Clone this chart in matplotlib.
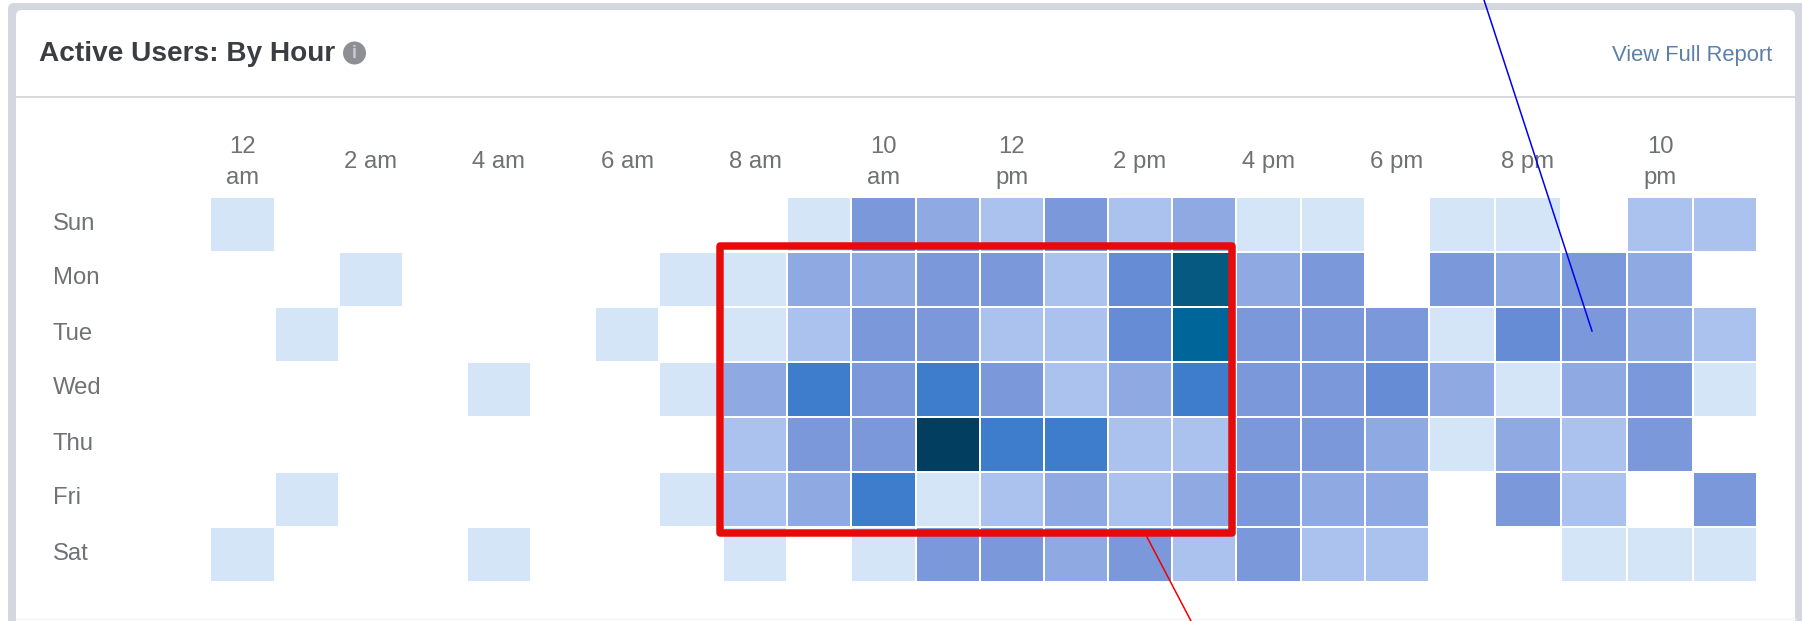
import numpy as np
import matplotlib
matplotlib.use("Agg")
import matplotlib.pyplot as plt
from matplotlib.colors import ListedColormap, BoundaryNorm
from matplotlib.patches import FancyBboxPatch, Rectangle, Circle

plt.rcParams['font.family'] = ['Liberation Sans', 'DejaVu Sans']

days = ["Sun", "Mon", "Tue", "Wed", "Thu", "Fri", "Sat"]
hour_ticks = [0, 2, 4, 6, 8, 10, 12, 14, 16, 18, 20, 22]
hour_labels = ["12\nam", "2 am", "4 am", "6 am", "8 am", "10\nam", "12\npm",
               "2 pm", "4 pm", "6 pm", "8 pm", "10\npm"]

# activity level per hour, 0 means nobody was active
sun = [1,0,0,0,0,0,0,0,0,1,4,3,2,4,2,3,1,1,0,1,1,0,2,2]
mon = [0,0,1,0,0,0,0,1,1,3,3,4,4,2,5,8,3,4,0,4,3,4,3,0]
tue = [0,1,0,0,0,0,1,0,1,2,4,4,2,2,5,7,4,4,4,1,5,4,3,2]
wed = [0,0,0,0,1,0,0,1,3,6,4,6,4,2,3,6,4,4,5,3,1,3,4,1]
thu = [0,0,0,0,0,0,0,0,2,4,4,9,6,6,2,2,4,4,3,1,3,2,4,0]
fri = [0,1,0,0,0,0,0,1,2,3,6,1,2,3,2,3,4,3,3,0,4,2,0,4]
sat = [1,0,0,0,1,0,0,0,1,0,1,4,4,3,4,2,4,2,2,0,0,1,1,1]
levels = np.array([sun, mon, tue, wed, thu, fri, sat])

level_colors = ["#ffffff", "#d5e5f8", "#abc2ef", "#8fa9e3", "#7b98da", "#668cd5",
                "#3d7dcc", "#00669a", "#045a80", "#023e5f"]

W, H = 1802, 621

fig = plt.figure(figsize=(W / 100, H / 100), dpi=100, facecolor="white")

# page layer in pixel coordinates
page = fig.add_axes([0, 0, 1, 1], zorder=0)
page.set_xlim(0, W)
page.set_ylim(H, 0)
page.axis("off")
page.add_patch(FancyBboxPatch((8, 3), 1800, 640, boxstyle="round,pad=0,rounding_size=6",
                              fc="#d4d7e0", ec="none"))
page.add_patch(FancyBboxPatch((16, 10), 1779, 640, boxstyle="round,pad=0,rounding_size=6",
                              fc="white", ec="none"))
page.plot([16, 1795], [618.5, 618.5], color="#f3f3f4", lw=1)
page.plot([16, 1795], [96.5, 96.5], color="#d2d3d7", lw=1.2)
page.text(39, 54, "Active Users: By Hour", fontsize=20.2, fontweight="bold",
          color="#3b3d42", va="center", ha="left")
page.add_patch(Circle((354.5, 53), 11.5, fc="#8d8f94", ec="none"))
page.text(354.5, 53, "i", fontsize=13, fontweight="bold", color="#c9cacd", va="center", ha="center")
page.text(1772, 56, "View Full Report", fontsize=15.8, color="#5d80a8", va="center", ha="right")

# heatmap, the last few columns are slightly wider
x_edges = np.r_[np.linspace(210.5, 1236, 17), 1300.6, 1364.5, 1429, 1495, 1561, 1627, 1693, 1757]
y_edges = np.linspace(196.5, 581.5, 8)
x_mid = (x_edges[:-1] + x_edges[1:]) / 2
y_mid = (y_edges[:-1] + y_edges[1:]) / 2

x0, x1, y0, y1 = x_edges[0], x_edges[-1], y_edges[0], y_edges[-1]
ax = fig.add_axes([x0 / W, 1 - y1 / H, (x1 - x0) / W, (y1 - y0) / H], zorder=1)
ax.patch.set_alpha(0)
cmap = ListedColormap(level_colors)
norm = BoundaryNorm(np.arange(-0.5, len(level_colors)), cmap.N)
ax.pcolormesh(x_edges, y_edges, levels, cmap=cmap, norm=norm,
              edgecolors="white", linewidth=1.2)
ax.set_xlim(x0, x1)
ax.set_ylim(y1, y0)
for s in ax.spines.values():
    s.set_visible(False)
ax.xaxis.tick_top()
ax.set_xticks(x_mid[hour_ticks])
ax.set_xticklabels(hour_labels, va="center", linespacing=1.48)
ax.set_yticks(y_mid - 3)
ax.set_yticklabels(days, ha="left")
ax.tick_params(axis="x", length=0, pad=24.5, labelsize=17.2, labelcolor="#6f7175")
ax.tick_params(axis="y", length=0, pad=113.5, labelsize=17.2, labelcolor="#6f7175")

# highlight box around the working hours
ax.add_patch(Rectangle((719.5, 246), 512.5, 287, fill=False, ec="#e60b0b", lw=5.4,
                       joinstyle="round", zorder=5))

# annotation lines on top of everything
overlay = fig.add_axes([0, 0, 1, 1], zorder=2)
overlay.set_xlim(0, W)
overlay.set_ylim(H, 0)
overlay.axis("off")
overlay.plot([1484, 1592], [0, 331], color="#0000f0", lw=1.1)
overlay.plot([1147, 1191], [537, 621], color="#f00000", lw=1.1)

fig.savefig("out.png", dpi=100)
